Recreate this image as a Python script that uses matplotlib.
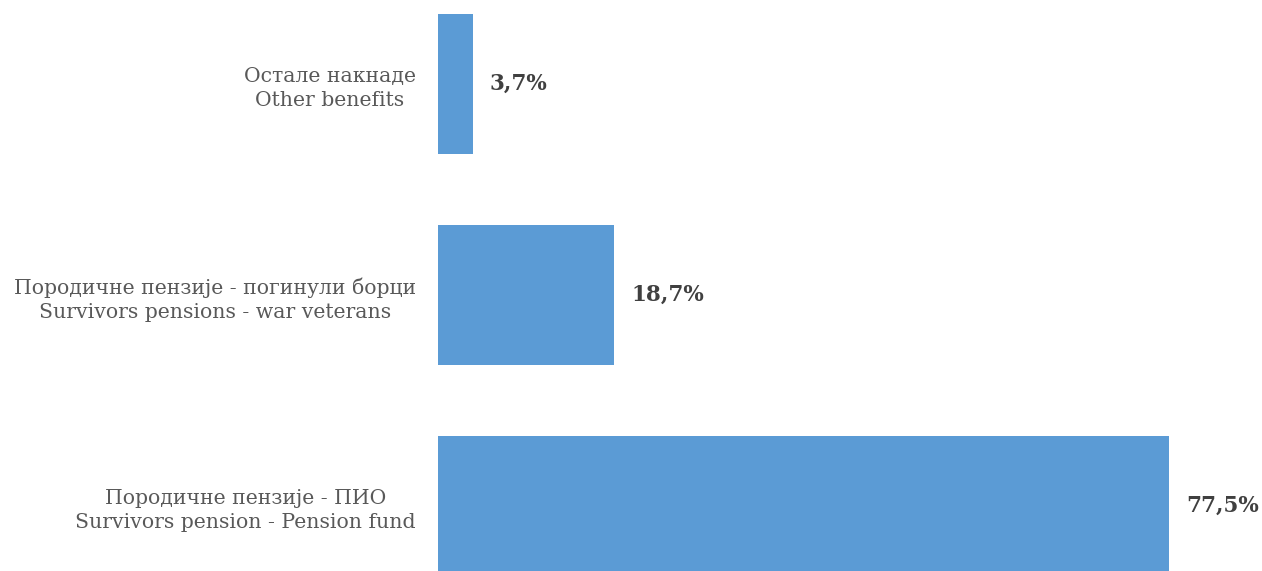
import matplotlib
matplotlib.use("Agg")
import matplotlib.pyplot as plt

categories = [
    "Породичне пензије - ПИО\nSurvivors pension - Pension fund",
    "Породичне пензије - погинули борци\nSurvivors pensions - war veterans",
    "Остале накнаде\nOther benefits",
]
values = [77.5, 18.7, 3.7]
value_labels = ["77,5%", "18,7%", "3,7%"]

fig = plt.figure(figsize=(12.62, 5.71), dpi=100)
W, H = 1262, 571
ax = fig.add_axes([438 / W, 0, (W - 438) / W, 1])

ypos = list(range(len(categories)))
ax.barh(ypos, values, height=0.663, color="#5B9BD5")
ax.set_xlim(0, (W - 438) / 9.43)
ax.set_ylim(-(571 - 506) / 211, 2 + 84 / 211)

ax.set_yticks(ypos)
ax.set_yticklabels(categories, family="DejaVu Serif", fontsize=14.7, color="#595959",
                   multialignment="center", linespacing=1.35)
ax.tick_params(axis="y", length=0, pad=16)
ax.set_xticks([])
for s in ax.spines.values():
    s.set_visible(False)

for y, v, lab in zip(ypos, values, value_labels):
    ax.annotate(lab, (v, y), xytext=(17, 0), textcoords="offset pixels",
                va="center", ha="left", family="DejaVu Serif", fontsize=15.5,
                fontweight="bold", color="#404040")

fig.savefig("out.png", dpi=100)
